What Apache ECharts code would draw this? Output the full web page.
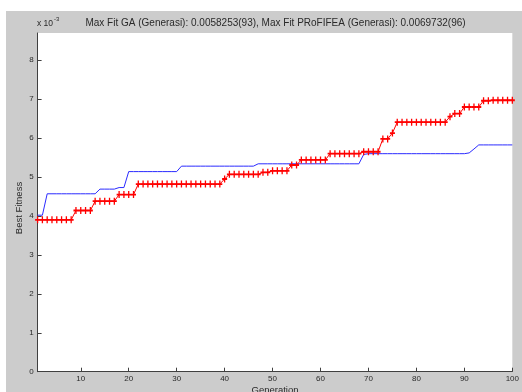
<!DOCTYPE html>
<html>
<head>
<meta charset="utf-8">
<script src="https://cdn.jsdelivr.net/npm/echarts@6/dist/echarts.min.js"></script>
<style>
  html, body { margin: 0; padding: 0; background: #ffffff; }
  #figure { position: absolute; left: 6px; top: 11px; width: 516px; height: 381px; background: #cccccc; }
  #chart { position: absolute; left: 0; top: 0; width: 522px; height: 392px; }
</style>
</head>
<body>
<div id="figure"></div>
<div id="chart"></div>
<script>
// Generation index shown on the x axis (1 .. 100)
const generations = Array.from({ length: 100 }, (_, i) => i + 1);

// Best fitness per generation, plain GA (blue line)
const bestFitnessGA = [
  0.00402, 0.00402,
  0.00457, 0.00457, 0.00457, 0.00457, 0.00457, 0.00457, 0.00457, 0.00457, 0.00457, 0.00457, 0.00457,
  0.00469, 0.00469, 0.00469, 0.00469,
  0.00473, 0.00473,
  0.00514, 0.00514, 0.00514, 0.00514, 0.00514, 0.00514, 0.00514, 0.00514, 0.00514, 0.00514, 0.00514,
  0.00528, 0.00528, 0.00528, 0.00528, 0.00528, 0.00528, 0.00528, 0.00528, 0.00528, 0.00528, 0.00528, 0.00528, 0.00528, 0.00528, 0.00528, 0.00528,
  0.00534, 0.00534, 0.00534, 0.00534, 0.00534, 0.00534, 0.00534, 0.00534, 0.00534, 0.00534, 0.00534,
  0.00534, 0.00534, 0.00534, 0.00534, 0.00534, 0.00534, 0.00534, 0.00534, 0.00534, 0.00534, 0.00534,
  0.00558,
  0.00560, 0.00560, 0.00560, 0.00560, 0.00560, 0.00560, 0.00560, 0.00560, 0.00560, 0.00560, 0.00560,
  0.00560, 0.00560, 0.00560, 0.00560, 0.00560, 0.00560, 0.00560, 0.00560, 0.00560, 0.00560,
  0.00562, 0.00572,
  0.0058253, 0.0058253, 0.0058253, 0.0058253, 0.0058253, 0.0058253, 0.0058253, 0.0058253
];

// Best fitness per generation, PRoFIFEA (red line with + markers)
const bestFitnessPRoFIFEA = [
  0.00390, 0.00390, 0.00390, 0.00390, 0.00390, 0.00390, 0.00390, 0.00390,
  0.00414, 0.00414, 0.00414, 0.00414,
  0.00438, 0.00438, 0.00438, 0.00438, 0.00438,
  0.00455, 0.00455, 0.00455, 0.00455,
  0.00482, 0.00482, 0.00482, 0.00482, 0.00482, 0.00482, 0.00482, 0.00482, 0.00482,
  0.00482, 0.00482, 0.00482, 0.00482, 0.00482, 0.00482, 0.00482, 0.00482, 0.00482,
  0.00495,
  0.00507, 0.00507, 0.00507, 0.00507, 0.00507, 0.00507, 0.00507,
  0.00512, 0.00512,
  0.00516, 0.00516, 0.00516, 0.00516,
  0.00531, 0.00531,
  0.00544, 0.00544, 0.00544, 0.00544, 0.00544, 0.00544,
  0.00560, 0.00560, 0.00560, 0.00560, 0.00560, 0.00560, 0.00560,
  0.00565, 0.00565, 0.00565, 0.00565,
  0.00598, 0.00598,
  0.00613,
  0.00641, 0.00641, 0.00641, 0.00641, 0.00641, 0.00641, 0.00641, 0.00641, 0.00641, 0.00641, 0.00641,
  0.00655,
  0.00663, 0.00663,
  0.00680, 0.00680, 0.00680, 0.00680,
  0.00696, 0.00696,
  0.0069732, 0.0069732, 0.0069732, 0.0069732, 0.0069732
];

// Tick positions / labels
const yTickValues = [0, 0.001, 0.002, 0.003, 0.004, 0.005, 0.006, 0.007, 0.008];
const xTickLabels = ['10', '20', '30', '40', '50', '60', '70', '80', '90', '100'];

const titleText = 'Max Fit GA (Generasi): 0.0058253(93), Max Fit PRoFIFEA (Generasi): 0.0069732(96)';
const fontFamily = '"Liberation Sans", Arial, Helvetica, sans-serif';
const axisColor = '#404040';
const textColor = '#2a2a2a';

const isTick = (idx, val) => xTickLabels.indexOf(String(val)) !== -1;

// "+" marker drawn as a filled cross
const plusMarker = 'path://M3.7,0h2.6v3.7h3.7v2.6h-3.7v3.7h-2.6v-3.7h-3.7v-2.6h3.7z';

const chart = echarts.init(document.getElementById('chart'), null, { renderer: 'canvas' });

chart.setOption({
  animation: false,
  backgroundColor: 'transparent',
  textStyle: { fontFamily: fontFamily },
  grid: {
    left: 37.6, right: 7, top: 33, bottom: 20.3,
    show: true, backgroundColor: '#ffffff', borderWidth: 0
  },
  xAxis: {
    type: 'category',
    data: generations,
    boundaryGap: false,
    axisLine: { lineStyle: { color: axisColor, width: 1 } },
    axisTick: { inside: true, length: 4, interval: isTick, lineStyle: { color: axisColor } },
    axisLabel: {
      interval: isTick, fontSize: 8, color: textColor, margin: 3,
      fontFamily: fontFamily, hideOverlap: false
    },
    splitLine: { show: false }
  },
  yAxis: {
    type: 'value',
    min: 0,
    max: 0.0087,
    axisLine: { show: true, lineStyle: { color: axisColor, width: 1 } },
    axisTick: { show: true, inside: true, length: 4, customValues: yTickValues, lineStyle: { color: axisColor } },
    axisLabel: {
      customValues: yTickValues,
      formatter: (v) => String(Math.round(v * 1000)),
      fontSize: 8, color: textColor, margin: 4, fontFamily: fontFamily
    },
    splitLine: { show: false }
  },
  series: [
    {
      name: 'GA',
      type: 'line',
      data: bestFitnessGA,
      showSymbol: false,
      symbol: 'none',
      lineStyle: { color: '#2b2bff', width: 1 },
      itemStyle: { color: '#2b2bff' },
      z: 2
    },
    {
      name: 'PRoFIFEA',
      type: 'line',
      data: bestFitnessPRoFIFEA,
      symbol: plusMarker,
      symbolSize: [5, 7],
      showAllSymbol: true,
      lineStyle: { color: '#ff0000', width: 1 },
      itemStyle: { color: '#ff0000' },
      z: 3
    }
  ],
  graphic: [
    {
      type: 'text', x: 275.5, y: 23.5,
      style: { text: titleText, textAlign: 'center', textVerticalAlign: 'middle',
               font: '10px ' + fontFamily, fill: textColor }
    },
    {
      type: 'text', x: 37, y: 24,
      style: { text: 'x 10', textAlign: 'left', textVerticalAlign: 'middle',
               font: '8.5px ' + fontFamily, fill: textColor }
    },
    {
      type: 'text', x: 54, y: 19.5,
      style: { text: '-3', textAlign: 'left', textVerticalAlign: 'middle',
               font: '6px ' + fontFamily, fill: textColor }
    },
    {
      type: 'text', x: 19.5, y: 208, rotation: Math.PI / 2,
      style: { text: 'Best Fitness', textAlign: 'center', textVerticalAlign: 'middle',
               font: '9.5px ' + fontFamily, fill: textColor }
    },
    {
      type: 'text', x: 275, y: 385.5,
      style: { text: 'Generation', textAlign: 'center', textVerticalAlign: 'top',
               font: '9.5px ' + fontFamily, fill: textColor }
    }
  ]
});
</script>
</body>
</html>
